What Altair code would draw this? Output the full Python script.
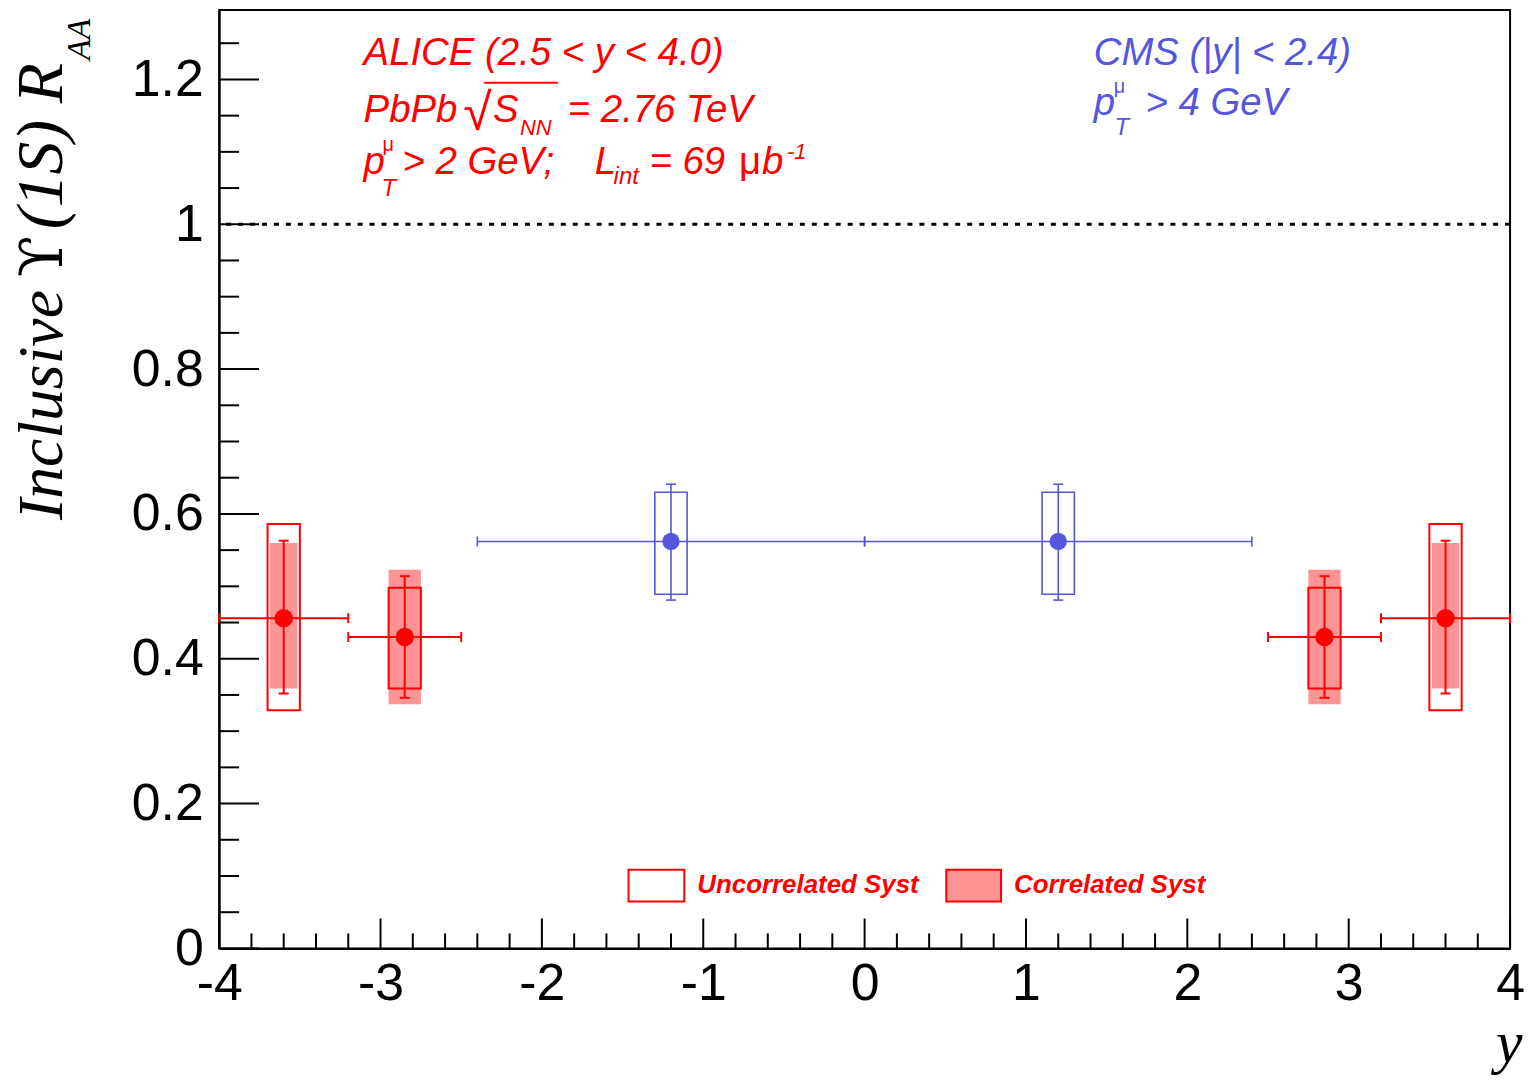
import altair as alt
import pandas as pd

RED = "#ff0000"
BLUE = "#5555dd"
SANS = "Liberation Sans"
SERIF = "Liberation Serif"

# ---------------- data ----------------
alice_y = [-3.6, -2.85, 2.85, 3.6]
alice_y_lo = [-4.0, -3.2, 2.5, 3.2]
alice_y_hi = [-3.2, -2.5, 3.2, 4.0]
alice_raa = [0.456, 0.430, 0.430, 0.456]
alice_stat_lo = [0.352, 0.346, 0.346, 0.352]
alice_stat_hi = [0.563, 0.514, 0.514, 0.563]
alice_unc_lo = [0.329, 0.359, 0.359, 0.329]
alice_unc_hi = [0.586, 0.498, 0.498, 0.586]
alice_cor_lo = [0.359, 0.337, 0.337, 0.359]
alice_cor_hi = [0.560, 0.523, 0.523, 0.560]
alice_box_half = [0.10, 0.10, 0.10, 0.10]
alice_cor_half = [0.085, 0.10, 0.10, 0.085]

cms_y = [-1.2, 1.2]
cms_y_lo = [-2.4, 0.0]
cms_y_hi = [0.0, 2.4]
cms_raa = [0.562, 0.562]
cms_stat_lo = [0.481, 0.481]
cms_stat_hi = [0.641, 0.641]
cms_sys_lo = [0.489, 0.489]
cms_sys_hi = [0.630, 0.630]
cms_box_half = [0.10, 0.10]

reference_line = [1.0]

x_major = [-4, -3, -2, -1, 0, 1, 2, 3, 4]
x_minor = [round(-4 + 0.2 * i, 1) for i in range(41) if i % 5 != 0]
y_major = [0, 0.2, 0.4, 0.6, 0.8, 1, 1.2]
y_minor = [round(0.05 * i, 2) for i in range(26) if i % 4 != 0]

# ---------------- layout ----------------
W, H = 1296, 942
PL, PT, PR, PB = 212, 0, 15, 128
OX, OY = PL + 8, PT + 8  # page position of plot origin
Y_MAX = 942 / 727.0

xs = alt.Scale(domain=[-4, 4], nice=False, zero=False)
ys = alt.Scale(domain=[0, Y_MAX], nice=False, zero=False)

common_axis = dict(
    title=None, ticks=False, tickSize=0, grid=False, labelFont=SANS,
    labelFontSize=52, labelColor="black", labelFlush=False,
    labelOverlap=False, domainColor="black", domainWidth=2,
)
xax = alt.Axis(values=x_major, labelExpr="'' + datum.value", labelPadding=10, **common_axis)
yax = alt.Axis(values=y_major, labelExpr="'' + datum.value", labelPadding=16, **common_axis)


def X(f):
    return alt.X(f, type="quantitative", scale=xs, axis=xax)


def Y(f):
    return alt.Y(f, type="quantitative", scale=ys, axis=yax)


alice = pd.DataFrame({
    "x": alice_y, "xlo": alice_y_lo, "xhi": alice_y_hi, "raa": alice_raa,
    "slo": alice_stat_lo, "shi": alice_stat_hi,
    "ulo": alice_unc_lo, "uhi": alice_unc_hi,
    "clo": alice_cor_lo, "chi": alice_cor_hi,
})
alice["bx0"] = [a - h for a, h in zip(alice_y, alice_box_half)]
alice["bx1"] = [a + h for a, h in zip(alice_y, alice_box_half)]
alice["cx0"] = [a - h for a, h in zip(alice_y, alice_cor_half)]
alice["cx1"] = [a + h for a, h in zip(alice_y, alice_cor_half)]

cms = pd.DataFrame({
    "x": cms_y, "xlo": cms_y_lo, "xhi": cms_y_hi, "raa": cms_raa,
    "slo": cms_stat_lo, "shi": cms_stat_hi,
    "ulo": cms_sys_lo, "uhi": cms_sys_hi,
})
cms["bx0"] = [a - h for a, h in zip(cms_y, cms_box_half)]
cms["bx1"] = [a + h for a, h in zip(cms_y, cms_box_half)]

layers = []

# reference line at 1
layers.append(alt.Chart(pd.DataFrame({"v": reference_line})).mark_rule(
    color="black", strokeWidth=3, strokeDash=[5, 7]).encode(y=Y("v")))

# ALICE correlated systematics (shaded)
a = alt.Chart(alice)
layers.append(a.mark_rect(fill=RED, fillOpacity=0.42, strokeWidth=0).encode(
    x=X("cx0"), x2="cx1", y=Y("clo"), y2="chi"))
# ALICE uncorrelated systematics (open boxes)
layers.append(a.mark_rect(fillOpacity=0, stroke=RED, strokeWidth=2).encode(
    x=X("bx0"), x2="bx1", y=Y("ulo"), y2="uhi"))
layers.append(a.mark_rule(color=RED, strokeWidth=2).encode(x=X("xlo"), x2="xhi", y=Y("raa")))
layers.append(a.mark_rule(color=RED, strokeWidth=2).encode(x=X("x"), y=Y("slo"), y2="shi"))
for f in ["slo", "shi"]:
    layers.append(a.mark_tick(orient="horizontal", size=10, thickness=2, color=RED, opacity=1).encode(
        x=X("x"), y=Y(f)))
for f in ["xlo", "xhi"]:
    layers.append(a.mark_tick(orient="vertical", size=10, thickness=2, color=RED, opacity=1).encode(
        x=X(f), y=Y("raa")))
layers.append(a.mark_circle(size=340, color=RED, opacity=1).encode(x=X("x"), y=Y("raa")))

# CMS
c = alt.Chart(cms)
layers.append(c.mark_rect(fillOpacity=0, stroke=BLUE, strokeWidth=1.6).encode(
    x=X("bx0"), x2="bx1", y=Y("ulo"), y2="uhi"))
layers.append(c.mark_rule(color=BLUE, strokeWidth=1.6).encode(x=X("xlo"), x2="xhi", y=Y("raa")))
layers.append(c.mark_rule(color=BLUE, strokeWidth=1.6).encode(x=X("x"), y=Y("slo"), y2="shi"))
for f in ["slo", "shi"]:
    layers.append(c.mark_tick(orient="horizontal", size=10, thickness=1.6, color=BLUE, opacity=1).encode(
        x=X("x"), y=Y(f)))
for f in ["xlo", "xhi"]:
    layers.append(c.mark_tick(orient="vertical", size=10, thickness=1.6, color=BLUE, opacity=1).encode(
        x=X(f), y=Y("raa")))
layers.append(c.mark_circle(size=300, color=BLUE, opacity=1).encode(x=X("x"), y=Y("raa")))

# inward ticks (ROOT style)
layers.append(alt.Chart(pd.DataFrame({"t": x_major})).mark_rule(color="black", strokeWidth=2).encode(
    x=X("t"), y=alt.value(H), y2=alt.value(H - 30)))
layers.append(alt.Chart(pd.DataFrame({"t": x_minor})).mark_rule(color="black", strokeWidth=2).encode(
    x=X("t"), y=alt.value(H), y2=alt.value(H - 15)))
layers.append(alt.Chart(pd.DataFrame({"t": y_major})).mark_rule(color="black", strokeWidth=2).encode(
    y=Y("t"), x=alt.value(0), x2=alt.value(40)))
layers.append(alt.Chart(pd.DataFrame({"t": y_minor})).mark_rule(color="black", strokeWidth=2).encode(
    y=Y("t"), x=alt.value(0), x2=alt.value(20)))

# ---------------- annotations ----------------
dummy = pd.DataFrame({"d": [0]})


def txt(s, px, py, size, color, italic=True, bold=False, font=SANS, angle=0):
    return alt.Chart(dummy).mark_text(
        text=s, fontSize=size, color=color, font=font,
        fontStyle="italic" if italic else "normal",
        fontWeight="bold" if bold else "normal",
        align="left", baseline="alphabetic", angle=angle,
    ).encode(x=alt.value(px - OX), y=alt.value(py - OY))


def hline(px0, px1, py, color, width=2):
    return alt.Chart(dummy).mark_rule(color=color, strokeWidth=width).encode(
        x=alt.value(px0 - OX), x2=alt.value(px1 - OX), y=alt.value(py - OY))


def box(px0, py0, px1, py1, fill, fill_opacity, stroke):
    return alt.Chart(dummy).mark_rect(fill=fill, fillOpacity=fill_opacity, stroke=stroke, strokeWidth=2).encode(
        x=alt.value(px0 - OX), x2=alt.value(px1 - OX), y=alt.value(py0 - OY), y2=alt.value(py1 - OY))


FS = 38.5
# ALICE text
layers += [
    txt("ALICE (2.5 < y < 4.0)", 365, 63, FS, RED),
    txt("PbPb", 365, 120, FS, RED),
    txt("√", 465, 128, 52, RED, italic=False),
    hline(486, 560, 81, RED),
    txt("S", 495, 120, FS, RED),
    txt("NN", 522, 133, 22, RED),
    txt("= 2.76 TeV", 570, 120, FS, RED),
    txt("p", 365, 173, FS, RED),
    txt("μ", 384, 149, 20, RED, italic=False),
    txt("T", 383, 195, 24, RED),
    txt("> 2 GeV;", 404, 173, FS, RED),
    txt("L", 597, 173, FS, RED),
    txt("int", 616, 183, 24, RED),
    txt("= 69", 652, 173, FS, RED),
    txt("μ", 742, 173, FS, RED, italic=False),
    txt("b", 765, 173, FS, RED),
    txt("-1", 790, 157, 22, RED),
]
# CMS text
layers += [
    txt("CMS (|y| < 2.4)", 1098, 63, FS, BLUE),
    txt("p", 1098, 113, FS, BLUE),
    txt("μ", 1118, 91, 20, BLUE, italic=False),
    txt("T", 1119, 133, 24, BLUE),
    txt("> 4 GeV", 1150, 113, FS, BLUE),
]
# legend
layers += [
    box(631, 871, 687, 903, "white", 0, RED),
    txt("Uncorrelated Syst", 700, 894, 26, RED, bold=True),
    box(950, 871, 1005, 903, RED, 0.42, RED),
    txt("Correlated Syst", 1018, 894, 26, RED, bold=True),
]
# axis titles
layers += [
    txt("Inclusive", 62, 520, 64, "black", font=SERIF, angle=270),
    txt("ϒ", 62, 276, 60, "black", font="DejaVu Serif", italic=False, angle=270),
    txt("(1S) R", 62, 228, 66, "black", font=SERIF, angle=270),
    txt("AA", 90, 58, 34, "black", font=SERIF, angle=270),
    txt("y", 1502, 1064, 60, "black", font=SERIF),
]

chart = alt.layer(*layers).properties(
    width=W, height=H,
    autosize=alt.AutoSizeParams(type="none"),
    padding={"left": PL, "top": PT, "right": PR, "bottom": PB},
    background="white",
).configure_view(stroke="black", strokeWidth=2)

chart.save("out.html", embed_options={"renderer": "svg", "actions": False})
